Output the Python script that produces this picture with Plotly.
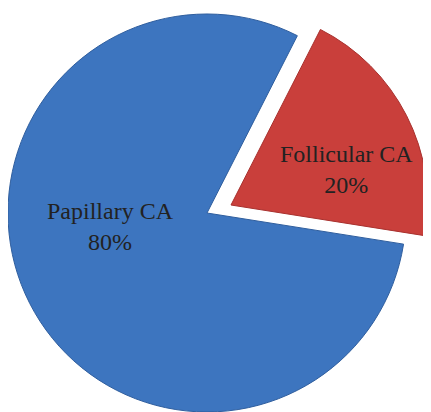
import plotly.graph_objects as go

labels = ["Follicular CA", "Papillary CA"]
values = [20, 80]
colors = ["#C93F3B", "#3D75BF"]
edge_colors = ["#A8312E", "#2F5E9E"]

# page body has an 8px margin, so the figure fills the rest of the window
W, H = 423, 404

def dom(cx, cy, r):
    return dict(x=[max(0, (cx - r) / W), min(1, (cx + r) / W)],
                y=[max(0, (H - (cy + r)) / H), min(1, (H - (cy - r)) / H)])

def slice_trace(show_idx, domain):
    fill = [c if i == show_idx else "rgba(0,0,0,0)" for i, c in enumerate(colors)]
    line = [c if i == show_idx else "rgba(0,0,0,0)" for i, c in enumerate(edge_colors)]
    return go.Pie(
        labels=labels, values=values, sort=False, direction="clockwise",
        rotation=27, domain=domain,
        marker=dict(colors=fill, line=dict(color=line, width=1)),
        textinfo="none", hoverinfo="skip", showlegend=False,
    )

fig = go.Figure()
fig.add_trace(slice_trace(1, dom(199, 205, 199)))
fig.add_trace(slice_trace(0, dom(223, 197, 197)))

total = sum(values)
label_pos = {"Papillary CA": (102, 218), "Follicular CA": (338, 161)}
for lab, val in zip(labels, values):
    x, y = label_pos[lab]
    fig.add_annotation(
        x=x / W, y=1 - y / H, xref="paper", yref="paper",
        text=f"{lab}<br>{round(100 * val / total)}%", showarrow=False,
        font=dict(family="Liberation Serif", size=24, color="#222222"),
        align="center", xanchor="center", yanchor="middle",
    )

fig.update_layout(
    width=W, height=H, margin=dict(l=0, r=0, t=0, b=0),
    paper_bgcolor="white", plot_bgcolor="white",
)
fig.write_html("out.html")
